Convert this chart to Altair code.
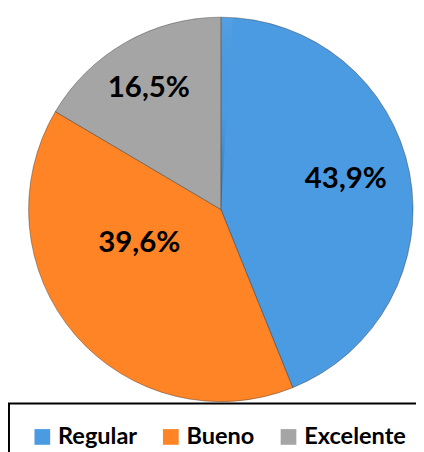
import altair as alt
import pandas as pd

categories = ["Regular", "Bueno", "Excelente"]
values = [43.9, 39.6, 16.5]
labels = ["43,9%", "39,6%", "16,5%"]
colors = ["#4A9BE2", "#FF8425", "#A5A5A5"]

df = pd.DataFrame({
    "category": categories,
    "value": values,
    "label": labels,
    "order": list(range(len(categories))),
})

CX, CY, R = 217, 201, 196

base = alt.Chart(df).encode(
    theta=alt.Theta("value:Q", stack=True),
    order=alt.Order("order:Q"),
    x=alt.value(CX),
    y=alt.value(CY),
)

pie = base.mark_arc(radius=R, stroke="#2a2a2a", strokeWidth=0.8, strokeOpacity=0.5).encode(
    color=alt.Color(
        "category:N",
        scale=alt.Scale(domain=categories, range=colors),
        legend=alt.Legend(
            orient="none", legendX=1, legendY=399, direction="horizontal",
            title=None, symbolType="square", symbolSize=256, symbolStrokeWidth=0,
            labelFont="Lato", labelFontSize=24, labelFontWeight="bold",
            labelColor="black", labelOffset=4, columnPadding=22,
            padding=22, strokeColor="black",
        ),
    )
)

shade = alt.Chart(pd.DataFrame({"v": [1]})).mark_arc(
    radius=R,
    fill=alt.Gradient(
        gradient="linear", x1=0, y1=0, x2=0, y2=1,
        stops=[
            alt.GradientStop(offset=0, color="rgba(255,255,255,0.05)"),
            alt.GradientStop(offset=0.5, color="rgba(0,0,0,0.0)"),
            alt.GradientStop(offset=1, color="rgba(0,0,0,0.2)"),
        ],
    ),
    strokeWidth=0,
).encode(theta=alt.Theta("v:Q"), x=alt.value(CX), y=alt.value(CY))

text_main = base.mark_text(
    radius=136, font="Lato", fontSize=30, fontWeight="bold", color="black", dx=-6, dy=-5
).encode(text=alt.condition(alt.datum.category == "Bueno", alt.value(""), alt.Text("label:N")))

text_bueno = base.mark_text(
    radius=136, font="Lato", fontSize=30, fontWeight="bold", color="black", dx=20, dy=-54
).encode(text=alt.condition(alt.datum.category == "Bueno", alt.Text("label:N"), alt.value("")))

chart = alt.layer(pie, shade, text_main, text_bueno).properties(
    width=416, height=444, autosize=alt.AutoSizeParams(type="none"), padding=0
).configure_view(stroke=None).configure_legend(strokeWidth=2)

chart.save("out.html", embed_options={"renderer": "svg", "actions": False})
